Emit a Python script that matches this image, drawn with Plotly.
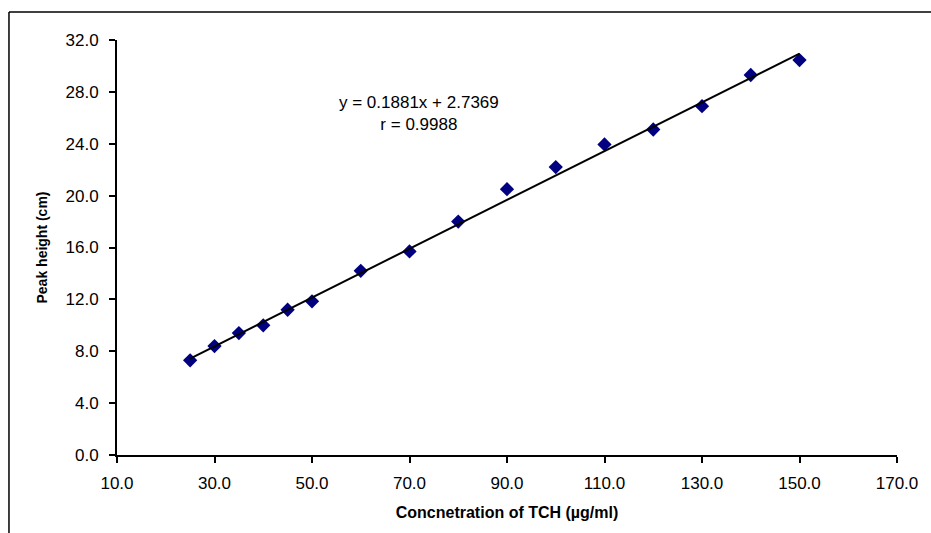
import plotly.graph_objects as go

# Calibration data: TCH concentration (µg/ml) vs. peak height (cm)
concentration = [25, 30, 35, 40, 45, 50, 60, 70, 80, 90, 100, 110, 120, 130, 140, 150]
peak_height = [7.3, 8.4, 9.4, 10.0, 11.2, 11.85, 14.2, 15.7, 18.0, 20.5, 22.2, 23.95, 25.1, 26.9, 29.3, 30.45]

# Linear trendline parameters
slope = 0.1881
intercept = 2.7369
r_value = 0.9988

x_ticks = [10, 30, 50, 70, 90, 110, 130, 150, 170]
y_ticks = [0, 4, 8, 12, 16, 20, 24, 28, 32]

fit_x = [concentration[0], concentration[-1]]
fit_y = [slope * v + intercept for v in fit_x]

font_family = "Liberation Sans, Arial, sans-serif"

fig = go.Figure()
fig.add_trace(go.Scatter(
    x=concentration, y=peak_height, mode="markers",
    marker=dict(symbol="diamond", size=11, color="#000080"),
    showlegend=False, cliponaxis=False,
))
fig.add_trace(go.Scatter(
    x=fit_x, y=fit_y, mode="lines",
    line=dict(color="black", width=2),
    showlegend=False, cliponaxis=False,
))

axis_common = dict(
    showgrid=False, zeroline=False, showline=True, linecolor="black", linewidth=2,
    ticks="outside", ticklen=6, tickwidth=2, tickcolor="black",
    tickfont=dict(family=font_family, size=17, color="black"),
)

fig.update_xaxes(
    range=[10, 170], tickvals=x_ticks, ticktext=[f"{v:.1f}" for v in x_ticks],
    ticklabelstandoff=6,
    title=dict(text="<b>Concnetration of TCH (µg/ml)</b>",
               font=dict(family=font_family, size=16, color="black"), standoff=14),
    **axis_common,
)
fig.update_yaxes(
    range=[0, 32], tickvals=y_ticks, ticktext=[f"{v:.1f}" for v in y_ticks],
    ticklabelstandoff=7,
    title=dict(text="<b>Peak height (cm)</b>",
               font=dict(family=font_family, size=14, color="black"), standoff=15),
    **axis_common,
)

fig.add_annotation(
    x=72, y=26.3, xref="x", yref="y", showarrow=False,
    text=f"y = {slope:.4f}x + {intercept:.4f}<br>r = {r_value:.4f}",
    font=dict(family=font_family, size=17, color="black"), align="center",
)

# Chart-area frame (left and top edges)
fig.add_shape(type="line", xref="paper", yref="paper",
              x0=-0.1385, y0=1.0675, x1=1.06, y1=1.0675,
              line=dict(color="black", width=1.5))
fig.add_shape(type="line", xref="paper", yref="paper",
              x0=-0.1385, y0=1.0675, x1=-0.1385, y1=-0.2,
              line=dict(color="black", width=1.5))

fig.update_layout(
    width=931, height=533,
    margin=dict(l=117, r=34, t=40, b=78),
    paper_bgcolor="white", plot_bgcolor="white",
    font=dict(family=font_family),
)

fig.write_html("out.html")
